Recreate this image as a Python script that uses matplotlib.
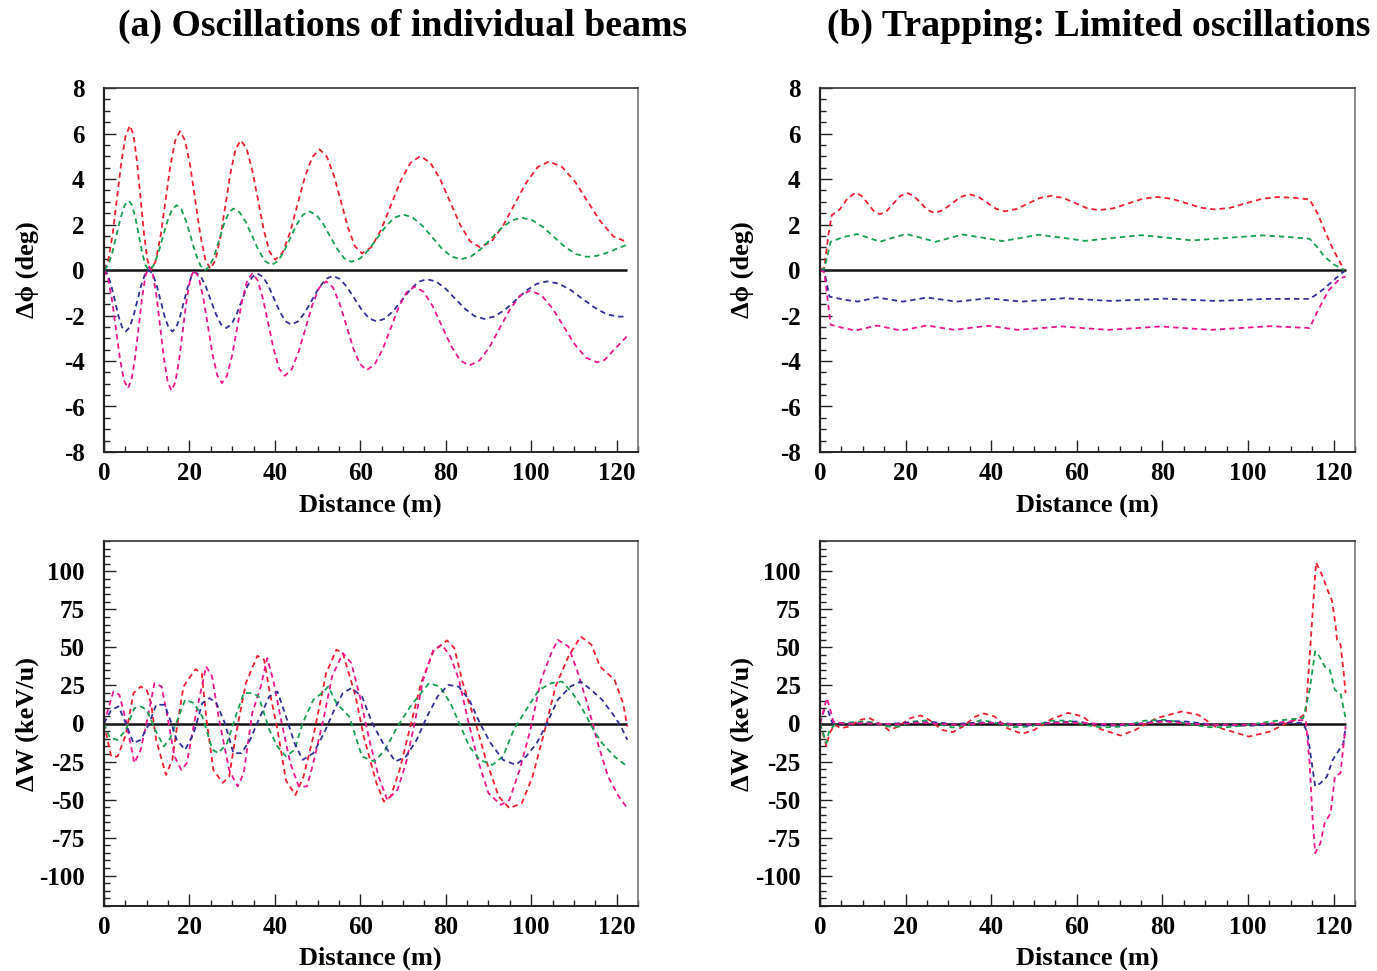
import matplotlib
matplotlib.use("Agg")
import matplotlib.pyplot as plt
from matplotlib.ticker import MultipleLocator, FixedLocator, FixedFormatter

plt.rcParams['font.family'] = ['Liberation Serif', 'DejaVu Serif']
plt.rcParams['font.weight'] = 'bold'
plt.rcParams['axes.unicode_minus'] = False

# ---------------- data: (a) phase ----------------
a_phi_red_x = [0,1.02,2.03,3.05,4.07,5.08,6.1,6.92,7.73,8.55,9.37,10.18,11,12.13,13.27,14.4,15.53,16.67,17.8,18.98,20.17,21.35,22.53,23.72,24.9,26.08,27.27,28.45,29.63,30.82,32,33.35,34.7,36.05,37.4,38.75,40.1,41.83,43.57,45.3,47.03,48.77,50.5,52.15,53.8,55.45,57.1,58.75,60.4,62.67,64.93,67.2,69.47,71.73,74,76.33,78.67,81,83.33,85.67,88,90.7,93.4,96.1,98.8,101.5,104.2,107.22,110.23,113.25,116.27,119.28,122.3]
a_phi_red_y = [0,.43,1.59,3.18,4.76,5.92,6.35,5.92,4.76,3.18,1.59,.43,0,.41,1.53,3.05,4.58,5.69,6.1,5.69,4.59,3.08,1.56,.46,.05,.43,1.46,2.88,4.29,5.32,5.7,5.35,4.39,3.08,1.76,.8,.45,.77,1.66,2.88,4.09,4.97,5.3,4.99,4.16,3.02,1.87,1.04,.73,1.02,1.8,2.87,3.93,4.71,5.0,4.73,4.0,3.0,2.0,1.27,1.0,1.25,1.94,2.89,3.83,4.52,4.77,4.53,3.89,3.0,2.12,1.47,1.24]
a_phi_green_x = [0,.97,1.93,2.9,3.87,4.83,5.8,6.58,7.37,8.15,8.93,9.72,10.5,11.58,12.67,13.75,14.83,15.92,17,18.12,19.23,20.35,21.47,22.58,23.7,24.8,25.9,27.0,28.1,29.2,30.3,31.78,33.27,34.75,36.23,37.72,39.2,40.67,42.13,43.6,45.07,46.53,48,49.65,51.3,52.95,54.6,56.25,57.9,59.92,61.93,63.95,65.97,67.98,70,72.25,74.5,76.75,79,81.25,83.5,85.88,88.27,90.65,93.03,95.42,97.8,100.33,102.87,105.4,107.93,110.47,113,115.3,117.65,120.0,122.3]
a_phi_green_y = [0,.2,.76,1.52,2.28,2.84,3.04,2.84,2.28,1.52,.76,.2,0,.19,.71,1.43,2.14,2.66,2.85,2.66,2.14,1.43,.71,.19,0,.18,.68,1.35,2.03,2.52,2.7,2.53,2.08,1.46,.84,.39,.22,.38,.81,1.4,1.99,2.42,2.58,2.43,2.03,1.47,.92,.51,.36,.5,.88,1.4,1.92,2.3,2.44,2.31,1.95,1.46,.96,.6,.47,.59,.93,1.39,1.84,2.18,2.3,2.18,1.87,1.44,1.01,.7,.58,.62,.75,.93,1.1]
a_phi_blue_x = [0,.85,1.7,2.55,3.4,4.25,5.1,6.0,6.9,7.8,8.7,9.6,10.5,11.42,12.33,13.25,14.17,15.08,16,16.9,17.8,18.7,19.6,20.5,21.4,22.6,23.8,25.0,26.2,27.4,28.6,29.82,31.03,32.25,33.47,34.68,35.9,37.22,38.53,39.85,41.17,42.48,43.8,45.42,47.03,48.65,50.27,51.88,53.5,55.22,56.93,58.65,60.37,62.08,63.8,65.77,67.73,69.7,71.67,73.63,75.6,77.83,80.07,82.3,84.53,86.77,89,91.45,93.9,96.35,98.8,101.25,103.7,106.5,109.3,112.1,114.9,117.7,120.5,122.5]
a_phi_blue_y = [0,-.18,-.68,-1.35,-2.03,-2.52,-2.7,-2.52,-2.03,-1.35,-.68,-.18,0,-.18,-.68,-1.35,-2.03,-2.52,-2.7,-2.53,-2.05,-1.4,-.75,-.27,-.1,-.26,-.71,-1.33,-1.94,-2.39,-2.55,-2.39,-1.95,-1.35,-.75,-.31,-.15,-.3,-.71,-1.28,-1.84,-2.25,-2.4,-2.26,-1.87,-1.33,-.8,-.4,-.26,-.39,-.76,-1.26,-1.76,-2.13,-2.26,-2.14,-1.8,-1.33,-.87,-.52,-.4,-.52,-.84,-1.28,-1.71,-2.03,-2.15,-2.04,-1.74,-1.33,-.91,-.61,-.5,-.6,-.89,-1.28,-1.66,-1.95,-2.05,-2.05]
a_phi_mag_x = [0,.93,1.87,2.8,3.73,4.67,5.6,6.43,7.27,8.1,8.93,9.77,10.6,11.47,12.33,13.2,14.07,14.93,15.8,16.68,17.57,18.45,19.33,20.22,21.1,22.18,23.27,24.35,25.43,26.52,27.6,28.78,29.97,31.15,32.33,33.52,34.7,35.97,37.23,38.5,39.77,41.03,42.3,43.92,45.53,47.15,48.77,50.38,52,53.58,55.17,56.75,58.33,59.92,61.5,63.37,65.23,67.1,68.97,70.83,72.7,74.83,76.97,79.1,81.23,83.37,85.5,87.88,90.27,92.65,95.03,97.42,99.8,102.4,105,107.6,110.2,112.8,115.4,117.2,119.0,120.8,122.5]
a_phi_mag_y = [0,-.35,-1.3,-2.6,-3.9,-4.85,-5.2,-4.84,-3.86,-2.53,-1.19,-.21,.15,-.22,-1.21,-2.58,-3.94,-4.93,-5.3,-4.94,-3.98,-2.65,-1.33,-.36,0,-.33,-1.24,-2.49,-3.73,-4.64,-4.97,-4.65,-3.77,-2.56,-1.35,-.47,-.15,-.45,-1.28,-2.4,-3.53,-4.35,-4.65,-4.37,-3.61,-2.58,-1.54,-.78,-.5,-.76,-1.48,-2.45,-3.43,-4.14,-4.4,-4.15,-3.48,-2.57,-1.65,-.98,-.73,-.96,-1.6,-2.47,-3.33,-3.97,-4.2,-3.98,-3.38,-2.55,-1.73,-1.12,-.9,-1.11,-1.69,-2.48,-3.27,-3.85,-4.06,-3.95,-3.58,-3.23,-2.9]

# ---------------- data: (b) phase ----------------
b_phi_red_x = [0,1.0,2.0,2.75,4.6,6.45,8.3,9.73,11.15,12.58,14,15.58,17.15,18.73,20.3,21.9,23.5,25.1,26.7,28.75,30.8,32.85,34.9,36.98,39.05,41.13,43.2,45.9,48.6,51.3,54,56.78,59.55,62.33,65.1,68.53,71.95,75.38,78.8,82.18,85.55,88.93,92.3,95.98,99.65,103.33,107,111,114.4,116.2,117.9,119.4,120.8,122.5]
b_phi_red_y = [0,.1,1.6,2.41,2.66,3.15,3.4,3.26,2.93,2.59,2.45,2.59,2.92,3.25,3.39,3.26,2.95,2.64,2.51,2.63,2.92,3.21,3.33,3.22,2.96,2.69,2.58,2.68,2.92,3.16,3.26,3.17,2.95,2.72,2.63,2.71,2.92,3.13,3.21,3.13,2.94,2.74,2.66,2.74,2.94,3.13,3.21,3.17,3.1,2.5,1.75,1.1,.58,0]
b_phi_green_x = [0,1.0,2.5,5.5,8.6,11.3,14,17,20.1,23.5,27,30.2,33.4,38,42.7,46.9,51.1,56.5,61.9,68.5,75.1,81,86.9,95,103.1,109,114.4,116.2,117.9,120,121.8,122.5]
b_phi_green_y = [0,.05,1.24,1.45,1.58,1.42,1.24,1.42,1.58,1.42,1.24,1.4,1.56,1.42,1.27,1.41,1.55,1.42,1.28,1.41,1.53,1.42,1.3,1.41,1.52,1.46,1.37,1.0,.58,.25,.07,0]
b_phi_blue_x = [0,1.0,2.2,5.5,8.8,11,13.3,16.3,19.4,22.2,25,28.5,31.9,35.6,39.3,43.2,47.2,52,57,62.4,67.8,74.2,80.6,86.5,92.3,98.2,104.1,114.4,116.2,117.9,120,121.8,122.5]
b_phi_blue_y = [0,-.05,-1.17,-1.3,-1.39,-1.3,-1.2,-1.3,-1.39,-1.3,-1.21,-1.3,-1.39,-1.32,-1.24,-1.32,-1.39,-1.32,-1.24,-1.3,-1.36,-1.31,-1.26,-1.31,-1.36,-1.32,-1.27,-1.27,-1.05,-.8,-.45,-.15,-.07]
b_phi_mag_x = [0,1.0,2.5,5.5,8.3,10.8,13.3,16.1,18.9,22,25,28.2,31.4,35.3,39.3,42.8,46.2,51.3,56.5,62,67.3,73.5,79.6,85.5,91.4,98.3,105.1,114.4,116.4,118.9,121.6,122.8]
b_phi_mag_y = [0,-.1,-2.41,-2.55,-2.66,-2.55,-2.44,-2.55,-2.66,-2.55,-2.44,-2.54,-2.63,-2.54,-2.45,-2.54,-2.63,-2.56,-2.48,-2.56,-2.63,-2.56,-2.48,-2.56,-2.63,-2.55,-2.47,-2.55,-1.75,-.88,-.36,-.29]

# ---------------- data: (a) energy ----------------
a_w_red_x = [0,1.7,3.2,5.1,6.9,8.6,10,11,12.2,14.5,16,17,18.6,21.4,22.9,23.9,25.6,27.8,29.3,30.8,33.2,35.9,37.5,38.7,40.6,42.6,44.8,46.7,49,52,54.4,55.9,58.9,60.8,63.8,65.5,67.1,69.2,71.7,74.2,77.1,80.3,82,84,87,89.4,92.4,94.9,97.8,100.3,102.8,105.7,108.7,111.6,114.1,116.1,119.5,121.5,122.5]
a_w_red_y = [0,-21.7,-21.7,-7.5,20,24.3,22,13.4,-10.7,-33.8,-23.9,-4,24.3,35.7,33,4.6,-30.5,-39,-35,-8.6,26.5,44.5,41.9,22,-4,-37.5,-47,-35,-8.6,33,48.5,46.3,17.8,-8.6,-39.3,-51.3,-48,-30.5,-2,26.5,47.4,54.6,49.6,26.5,.2,-23.9,-48,-55.7,-52.4,-35,-8.6,24.3,44,57.2,51.8,37.5,28.7,13.4,-2]
a_w_mag_x = [0,2.2,3.6,5.1,7.1,8.6,10.6,11.8,13.5,15,16.5,18.1,19.4,21.4,23.9,25.3,26.8,29.3,31.3,32.7,34.7,36.7,38.2,39.6,41.6,43.6,45.6,47.5,49,51.5,53.4,55.9,57.9,59.9,62.3,64.3,66.3,68.7,70.7,72.7,74.7,77.1,79.1,81.1,83.1,85,87.5,90,92.9,94.9,97.3,99.8,102.3,104.7,106.2,108.7,110.7,113.1,115.6,118,120.5,122.5]
a_w_mag_y = [0,21,18.9,2.4,-26,-17.3,9,26.5,24.3,2.4,-21.7,-30.5,-26,4.6,37.5,31,4.6,-30.5,-41.4,-32.7,6.8,24.3,43,28.7,.2,-26,-41.4,-41.4,-26,4.6,31,46.3,39.7,17.8,-13,-35,-50.2,-43.6,-26,.2,28.7,48.5,51.8,44,28.7,4.6,-23.9,-45.8,-53.5,-50.2,-30.5,-4.2,28.7,46.3,55,50.7,35.3,13.4,-13,-35,-48,-55.7]
a_w_green_x = [0,1.4,3.2,5.1,7.1,8.6,10,12,14,15.5,17.5,19,21,23,25.4,26.8,28.8,30.8,32.7,34.7,36.2,38.7,40.6,42.6,44.6,46.5,49,51,52.5,54.4,57.4,60.4,63.3,65.8,68.7,71.7,74.2,76.1,78.6,81.1,83.5,85.5,88,90.9,93.4,95.9,98.8,101.8,104.7,107.2,109.7,112.1,114.6,116.6,119.5,122.5]
a_w_green_y = [0,-9.6,-10.7,-4.2,10.1,11.2,9,-4.2,-15.1,-9.6,4.6,15.6,13.4,4.6,-17.3,-19.5,-12.9,4.6,20,20,17.8,-4.2,-15.1,-21.7,-17.3,.2,15.6,20,24.3,13.4,4.6,-21.7,-25,-17.3,-2,11.2,20,26.5,24.3,13.4,-2,-15.1,-23.9,-27.2,-21.7,-4.2,9,22,26.5,27.6,20,9,-4.2,-12.9,-21.7,-28.3]
a_w_blue_x = [0,1.7,3.4,5.1,6.9,8.6,10.6,12.2,14.2,15.5,17,19,21,23,24.7,26.3,28.3,30.3,32.2,34.2,36.2,38.7,40.6,42.6,44.6,46.5,49,51.5,53.9,55.9,57.9,60.4,62.8,65.3,68.2,70.7,73.2,75.6,78.1,80.6,83,85.5,88,90.5,93.4,96.4,98.8,101.3,103.7,106.2,109.2,111.6,114.1,116.6,119.5,121,122.5]
a_w_blue_y = [0,9,11.2,.2,-12.9,-10.7,.2,12.3,12.3,2.4,-10.7,-17.3,-6.4,13.4,16.7,13.4,.2,-19.5,-19.5,-10.7,2.4,17.8,21,4.6,-12.9,-23.9,-19.5,-6.4,9,20,23.2,17.8,.2,-12.9,-25,-21.7,-10.7,4.6,17.8,25.4,24.3,15.6,.2,-12.9,-23.9,-27.2,-21.7,-12.9,.2,15.6,24.3,27.6,22,15.6,4.6,-2,-10.7]

# ---------------- data: (b) energy ----------------
b_w_red_x = [0,1.5,2.2,3.4,4.9,6.9,9.3,11.6,13.8,16.2,18.2,21.1,23.6,25.5,28.5,31,33.4,36.3,38.3,40.8,43.7,47.2,50.1,54,57.9,61.4,64.8,70.2,73.7,78.6,84.5,88.4,92.3,100.2,105.1,109,112,113.5,115.9,117.4,118.7,119.6,120.4,120.8,121.6,122.3,122.8]
b_w_red_y = [0,-15,-6.4,-.9,-3,-2,2.4,3.5,.2,-4.6,-2,3.5,5.3,2.4,-4.2,-5.7,-2,4.6,6.6,4.6,-3,-6.8,-4.2,2.8,7,4.6,-3,-7.9,-4.2,3.5,7.9,5.7,-2,-8.6,-5.3,.2,3.5,6.8,105.9,97,87,81,66,55,52,35,20]
b_w_green_x = [0,1.5,2.2,3.9,6.9,9.8,12.8,15.7,18.7,21.6,24.6,28.5,31,34.4,37.8,41.3,45.2,49.1,54,57.9,61.9,65.8,70.7,75.6,80.6,85.5,90.4,95.3,100.2,105.1,110,112.9,114.4,115.7,116.7,117.9,119.1,120.3,121.6,122.8]
b_w_green_y = [0,-13,-4.2,.2,.7,1.3,.7,-2,-2,1.3,2,-.9,-2.6,-.9,2.4,.2,-2.4,-2,1.8,2,-.9,-2.6,-2,1.8,2.4,.2,-2.4,-2.4,-.9,1.3,2.8,3.5,22,47.4,44,37.5,35.3,22,20,3.5]
b_w_blue_x = [0,1,1.8,2.9,5.9,10.8,15.7,20.6,26.5,31.4,37.3,43.2,48.1,54,60,66.8,72.7,79.6,85.5,92.3,100.2,106.1,110,112.9,113.9,114.9,115.7,116.9,118.4,119.8,121.3,122.3,122.8]
b_w_blue_y = [0,9,9,.2,-.2,.2,-.4,.7,.9,-.4,.7,.2,-1.5,.7,1.3,-1.5,-.9,1.8,1.3,-.9,-1.5,-.4,.7,.2,-6.4,-26,-41.4,-39.3,-35,-23.9,-17.3,-13,-2]
b_w_mag_x = [0,1.6,2.2,3.1,5.9,9.8,13.8,18.7,23.6,28.5,34.4,39.3,45.2,51.1,57,62.9,68.7,74.7,80.6,86.4,92.3,99.2,106.1,111,113.5,114.4,115.1,115.7,116.9,117.9,119.3,120.3,121.6,122.8]
b_w_mag_y = [0,16.7,11.2,1.3,-.2,.2,-.2,-.4,.7,-.4,-.9,.7,-.7,-.4,.7,.2,-.9,-.2,1.3,-.2,-.9,-.9,.2,1.8,2.4,-26,-63.4,-85.3,-78.7,-65.6,-59,-34.9,-32.7,-2]

x_ticks = [0, 20, 40, 60, 80, 100, 120]
phi_ticks = [-8, -6, -4, -2, 0, 2, 4, 6, 8]
w_ticks = [-100, -75, -50, -25, 0, 25, 50, 75, 100]

titles = ["(a) Oscillations of individual beams", "(b) Trapping: Limited oscillations"]
xlabel = "Distance (m)"
phi_label = "\u0394\u03d5 (deg)"
w_label = "\u0394W (keV/u)"

C_RED, C_GREEN, C_BLUE, C_MAG = '#ee2030', '#16a050', '#30309a', '#ee1590'

W, H = 1377, 971
fig = plt.figure(figsize=(W / 100, H / 100), dpi=100)

def ax_at(l, r, t, b):
    return fig.add_axes([l / W, 1 - b / H, (r - l) / W, (b - t) / H])

axes = {
    'a_phi': ax_at(104, 638, 88, 452),
    'b_phi': ax_at(820, 1355, 88, 452),
    'a_w': ax_at(104, 638, 541, 906),
    'b_w': ax_at(820, 1355, 541, 906),
}

series = {
    'a_phi': [(a_phi_red_x, a_phi_red_y, C_RED), (a_phi_green_x, a_phi_green_y, C_GREEN),
              (a_phi_blue_x, a_phi_blue_y, C_BLUE), (a_phi_mag_x, a_phi_mag_y, C_MAG)],
    'b_phi': [(b_phi_red_x, b_phi_red_y, C_RED), (b_phi_green_x, b_phi_green_y, C_GREEN),
              (b_phi_blue_x, b_phi_blue_y, C_BLUE), (b_phi_mag_x, b_phi_mag_y, C_MAG)],
    'a_w': [(a_w_red_x, a_w_red_y, C_RED), (a_w_mag_x, a_w_mag_y, C_MAG),
            (a_w_green_x, a_w_green_y, C_GREEN), (a_w_blue_x, a_w_blue_y, C_BLUE)],
    'b_w': [(b_w_red_x, b_w_red_y, C_RED), (b_w_green_x, b_w_green_y, C_GREEN),
            (b_w_blue_x, b_w_blue_y, C_BLUE), (b_w_mag_x, b_w_mag_y, C_MAG)],
}

for key, ax in axes.items():
    is_phi = key.endswith('phi')
    sers = series[key]
    xend = max(s[0][-1] for s in sers)
    ax.hlines(0, 0, xend, colors='#111111', linewidth=1.8, zorder=1)
    for xs, ys, c in sers:
        ax.plot(xs, ys, color=c, linewidth=1.3, linestyle=(0, (3, 2.2)), zorder=2)
    ax.set_xlim(0, 125)
    if is_phi:
        ax.set_ylim(-8, 8)
        ax.yaxis.set_major_locator(FixedLocator(phi_ticks))
        ax.yaxis.set_major_formatter(FixedFormatter([str(v) for v in phi_ticks]))
        ax.yaxis.set_minor_locator(MultipleLocator(0.5))
    else:
        ax.set_ylim(-120, 120)
        ax.yaxis.set_major_locator(FixedLocator(w_ticks))
        ax.yaxis.set_major_formatter(FixedFormatter([str(v) for v in w_ticks]))
        ax.yaxis.set_minor_locator(MultipleLocator(5))
    ax.xaxis.set_major_locator(FixedLocator(x_ticks))
    ax.xaxis.set_major_formatter(FixedFormatter([str(v) for v in x_ticks]))
    ax.xaxis.set_minor_locator(MultipleLocator(5))
    ax.tick_params(which='both', direction='in', top=False, right=False, color='#222222', width=1.0)
    ax.tick_params(which='major', length=8.5)
    ax.tick_params(which='minor', length=4.3)
    ax.tick_params(axis='y', which='major', pad=14, labelsize=18)
    ax.tick_params(axis='x', which='major', pad=7, labelsize=18)
    for lab in ax.get_xticklabels() + ax.get_yticklabels():
        lab.set_fontweight('bold')
    ax.spines['left'].set_linewidth(1.6)
    ax.spines['left'].set_color('#222222')
    ax.spines['top'].set_linewidth(1.2)
    ax.spines['top'].set_color('#333333')
    ax.spines['bottom'].set_linewidth(1.4)
    ax.spines['bottom'].set_color('#222222')
    ax.spines['right'].set_linewidth(1.2)
    ax.spines['right'].set_color('#777777')

fs_lab = 19
fig.text(403 / W, 1 - 26 / H, titles[0], ha='center', va='center', fontsize=27.2, fontweight='bold')
fig.text(827 / W, 1 - 26 / H, titles[1], ha='left', va='center', fontsize=27.2, fontweight='bold')
for xc in (370, 1087):
    fig.text(xc / W, 1 - 505 / H, xlabel, ha='center', va='center', fontsize=fs_lab, fontweight='bold')
    fig.text(xc / W, 1 - 958 / H, xlabel, ha='center', va='center', fontsize=fs_lab, fontweight='bold')
for xc in (27, 742):
    fig.text(xc / W, 1 - 270 / H, phi_label, ha='center', va='center', rotation=90,
             fontsize=fs_lab, fontweight='bold')
    fig.text(xc / W, 1 - 724 / H, w_label, ha='center', va='center', rotation=90,
             fontsize=fs_lab, fontweight='bold')

fig.savefig('out.png', dpi=100, facecolor='white')
